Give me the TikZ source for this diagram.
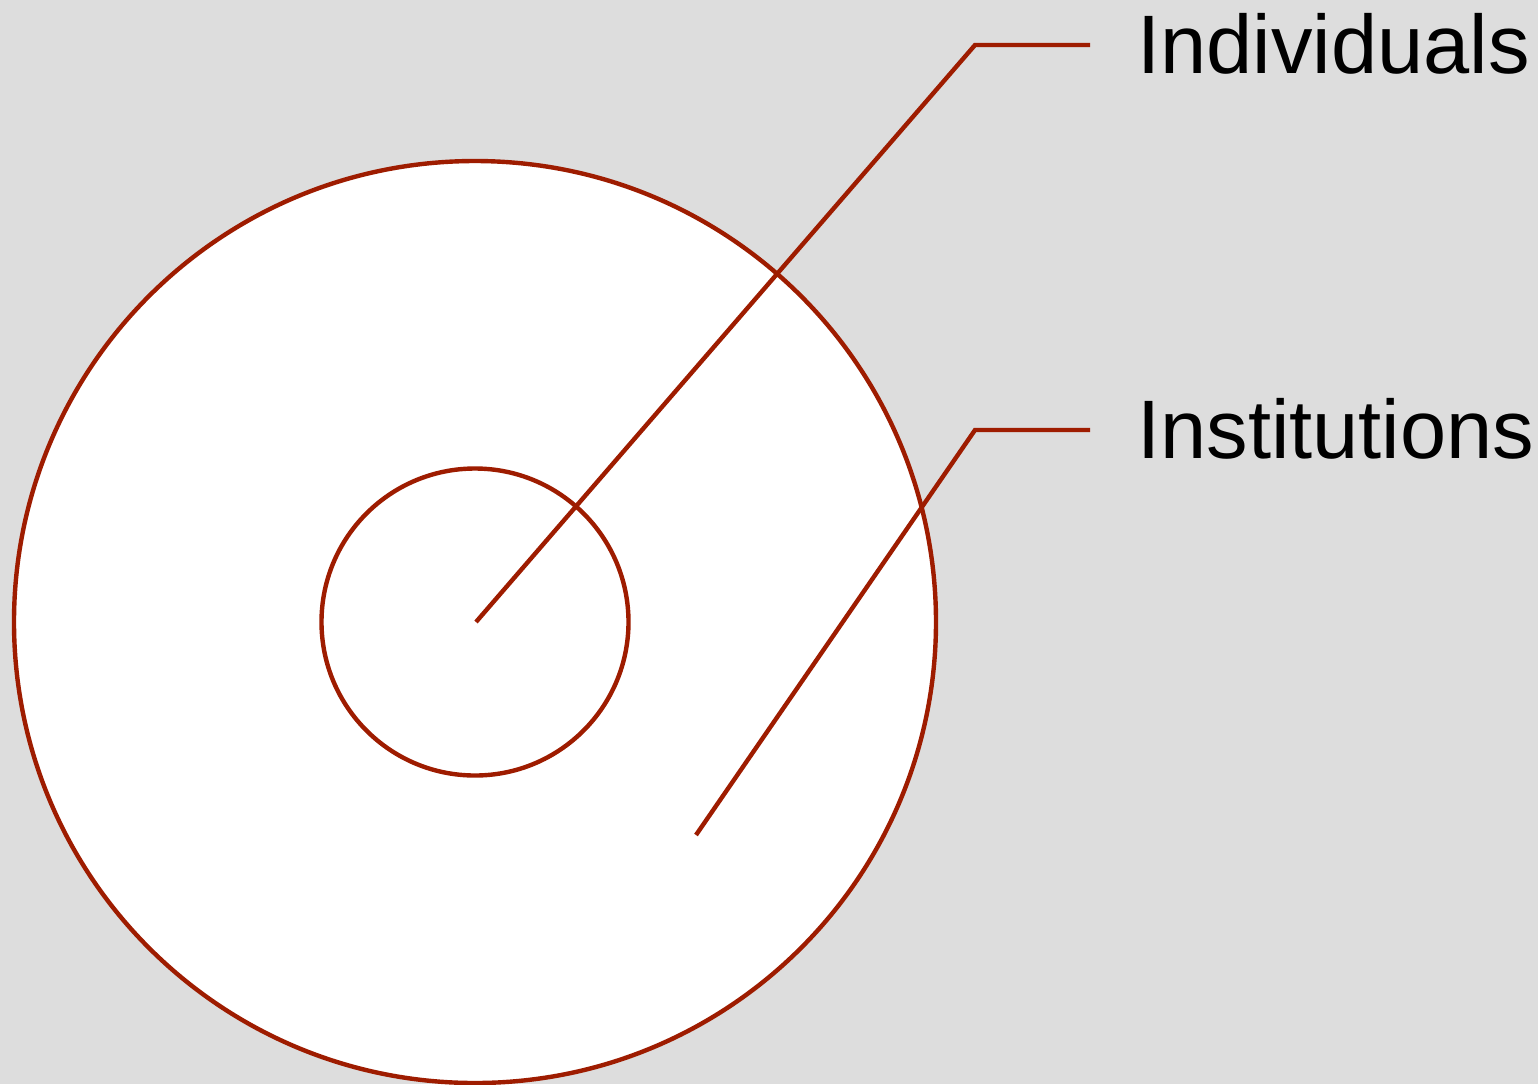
\documentclass[tikz,border=0pt]{standalone}
\usepackage{fontspec}
\setmainfont{Liberation Sans}
\definecolor{bggray}{RGB}{221,221,221}
\definecolor{linered}{RGB}{158,28,0}
\tikzset{
  ring/.style={draw=linered, line width=2.2pt, fill=white},
  leader/.style={draw=linered, line width=2.2pt},
  lbl/.style={anchor=base west, inner sep=0pt, font=\fontsize{41.5}{50}\selectfont}
}
\begin{document}
\begin{tikzpicture}[x=0.5pt, y=-0.5pt]
\fill[bggray] (0,0) rectangle (1538,1084);
\useasboundingbox (0,0) rectangle (1538,1084);
\node[ring, circle, minimum size=922pt*0.5, inner sep=0pt] (outer) at (475,622) {};
\node[ring, circle, minimum size=307pt*0.5, inner sep=0pt] (inner) at (475,622) {};
\coordinate (c1) at (476,622);
\coordinate (k1) at (975,45);
\coordinate (e1) at (1090,45);
\coordinate (c2) at (696,835);
\coordinate (k2) at (975,430);
\coordinate (e2) at (1090,430);
\draw[leader] (c1) -- (k1) -- (e1);
\draw[leader] (c2) -- (k2) -- (e2);
\node[lbl] (ind) at (1137,73) {Individuals};
\node[lbl] (ins) at (1137,458) {Institutions};
\end{tikzpicture}
\end{document}
